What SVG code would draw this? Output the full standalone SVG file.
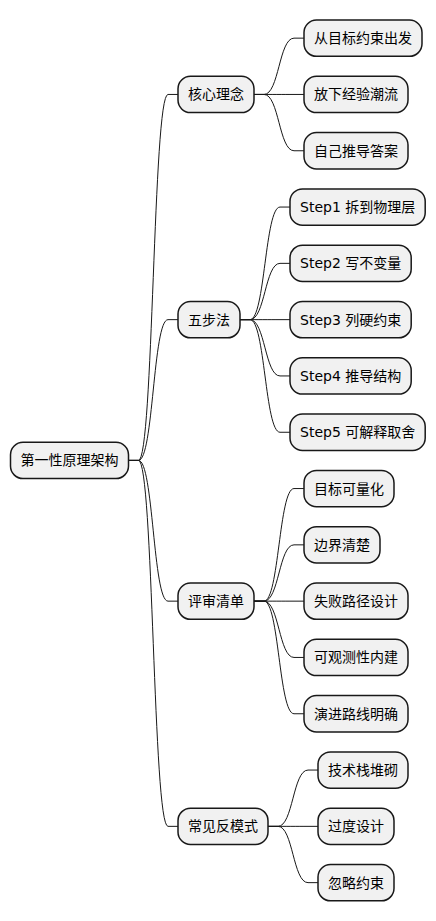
<svg xmlns="http://www.w3.org/2000/svg" width="436" height="921" viewBox="0 0 436 921">
<style>
.box{fill:#F1F1F1;stroke:#181818;stroke-width:1.5}
.t{font-family:"DejaVu Sans","Noto Sans CJK SC",sans-serif;font-size:14px;fill:#000000}
.c{fill:none;stroke:#181818;stroke-width:1}
</style>
<rect width="436" height="921" fill="#FFFFFF"/>
<g id="connectors">
<path class="c" d="M128.5,460.4 L138.5,460.4 C153.5,460.4 153,94.45 168,94.45 L178,94.45"/>
<path class="c" d="M128.5,460.4 L138.5,460.4 C153.5,460.4 153,319.65 168,319.65 L178,319.65"/>
<path class="c" d="M128.5,460.4 L138.5,460.4 C153.5,460.4 153,601.15 168,601.15 L178,601.15"/>
<path class="c" d="M128.5,460.4 L138.5,460.4 C153.5,460.4 153,826.35 168,826.35 L178,826.35"/>
<path class="c" d="M254,94.45 L264,94.45 C279,94.45 279,38.15 294,38.15 L304,38.15"/>
<path class="c" d="M254,94.45 L264,94.45 C279,94.45 279,94.45 294,94.45 L304,94.45"/>
<path class="c" d="M254,94.45 L264,94.45 C279,94.45 279,150.75 294,150.75 L304,150.75"/>
<path class="c" d="M240,319.65 L250,319.65 C265,319.65 265,207.05 280,207.05 L290,207.05"/>
<path class="c" d="M240,319.65 L250,319.65 C265,319.65 265,263.35 280,263.35 L290,263.35"/>
<path class="c" d="M240,319.65 L250,319.65 C265,319.65 265,319.65 280,319.65 L290,319.65"/>
<path class="c" d="M240,319.65 L250,319.65 C265,319.65 265,375.95 280,375.95 L290,375.95"/>
<path class="c" d="M240,319.65 L250,319.65 C265,319.65 265,432.25 280,432.25 L290,432.25"/>
<path class="c" d="M254,601.15 L264,601.15 C279,601.15 279,488.55 294,488.55 L304,488.55"/>
<path class="c" d="M254,601.15 L264,601.15 C279,601.15 279,544.85 294,544.85 L304,544.85"/>
<path class="c" d="M254,601.15 L264,601.15 C279,601.15 279,601.15 294,601.15 L304,601.15"/>
<path class="c" d="M254,601.15 L264,601.15 C279,601.15 279,657.45 294,657.45 L304,657.45"/>
<path class="c" d="M254,601.15 L264,601.15 C279,601.15 279,713.75 294,713.75 L304,713.75"/>
<path class="c" d="M268,826.35 L278,826.35 C293,826.35 293,770.05 308,770.05 L318,770.05"/>
<path class="c" d="M268,826.35 L278,826.35 C293,826.35 293,826.35 308,826.35 L318,826.35"/>
<path class="c" d="M268,826.35 L278,826.35 C293,826.35 293,882.65 308,882.65 L318,882.65"/>
</g>
<g id="root"><rect class="box" x="10.5" y="442.25" width="118" height="36.3" rx="12.5"/><text class="t" x="20.5" y="465.4">第一性原理架构</text></g>
<g id="n1"><rect class="box" x="178" y="76.3" width="76" height="36.3" rx="12.5"/><text class="t" x="188" y="99.45">核心理念</text></g>
<g id="n2"><rect class="box" x="178" y="301.5" width="62" height="36.3" rx="12.5"/><text class="t" x="188" y="324.65">五步法</text></g>
<g id="n3"><rect class="box" x="178" y="583" width="76" height="36.3" rx="12.5"/><text class="t" x="188" y="606.15">评审清单</text></g>
<g id="n4"><rect class="box" x="178" y="808.2" width="90" height="36.3" rx="12.5"/><text class="t" x="188" y="831.35">常见反模式</text></g>
<g id="n1a"><rect class="box" x="304" y="20" width="118" height="36.3" rx="12.5"/><text class="t" x="314" y="43.15">从目标约束出发</text></g>
<g id="n1b"><rect class="box" x="304" y="76.3" width="104" height="36.3" rx="12.5"/><text class="t" x="314" y="99.45">放下经验潮流</text></g>
<g id="n1c"><rect class="box" x="304" y="132.6" width="104" height="36.3" rx="12.5"/><text class="t" x="314" y="155.75">自己推导答案</text></g>
<g id="n2a"><rect class="box" x="290" y="188.9" width="135.2" height="36.3" rx="12.5"/><text class="t" x="300" y="212.05">Step1 拆到物理层</text></g>
<g id="n2b"><rect class="box" x="290" y="245.2" width="121.2" height="36.3" rx="12.5"/><text class="t" x="300" y="268.35">Step2 写不变量</text></g>
<g id="n2c"><rect class="box" x="290" y="301.5" width="121.2" height="36.3" rx="12.5"/><text class="t" x="300" y="324.65">Step3 列硬约束</text></g>
<g id="n2d"><rect class="box" x="290" y="357.8" width="121.2" height="36.3" rx="12.5"/><text class="t" x="300" y="380.95">Step4 推导结构</text></g>
<g id="n2e"><rect class="box" x="290" y="414.1" width="135.2" height="36.3" rx="12.5"/><text class="t" x="300" y="437.25">Step5 可解释取舍</text></g>
<g id="n3a"><rect class="box" x="304" y="470.4" width="90" height="36.3" rx="12.5"/><text class="t" x="314" y="493.55">目标可量化</text></g>
<g id="n3b"><rect class="box" x="304" y="526.7" width="76" height="36.3" rx="12.5"/><text class="t" x="314" y="549.85">边界清楚</text></g>
<g id="n3c"><rect class="box" x="304" y="583" width="104" height="36.3" rx="12.5"/><text class="t" x="314" y="606.15">失败路径设计</text></g>
<g id="n3d"><rect class="box" x="304" y="639.3" width="104" height="36.3" rx="12.5"/><text class="t" x="314" y="662.45">可观测性内建</text></g>
<g id="n3e"><rect class="box" x="304" y="695.6" width="104" height="36.3" rx="12.5"/><text class="t" x="314" y="718.75">演进路线明确</text></g>
<g id="n4a"><rect class="box" x="318" y="751.9" width="90" height="36.3" rx="12.5"/><text class="t" x="328" y="775.05">技术栈堆砌</text></g>
<g id="n4b"><rect class="box" x="318" y="808.2" width="76" height="36.3" rx="12.5"/><text class="t" x="328" y="831.35">过度设计</text></g>
<g id="n4c"><rect class="box" x="318" y="864.5" width="76" height="36.3" rx="12.5"/><text class="t" x="328" y="887.65">忽略约束</text></g>
</svg>
